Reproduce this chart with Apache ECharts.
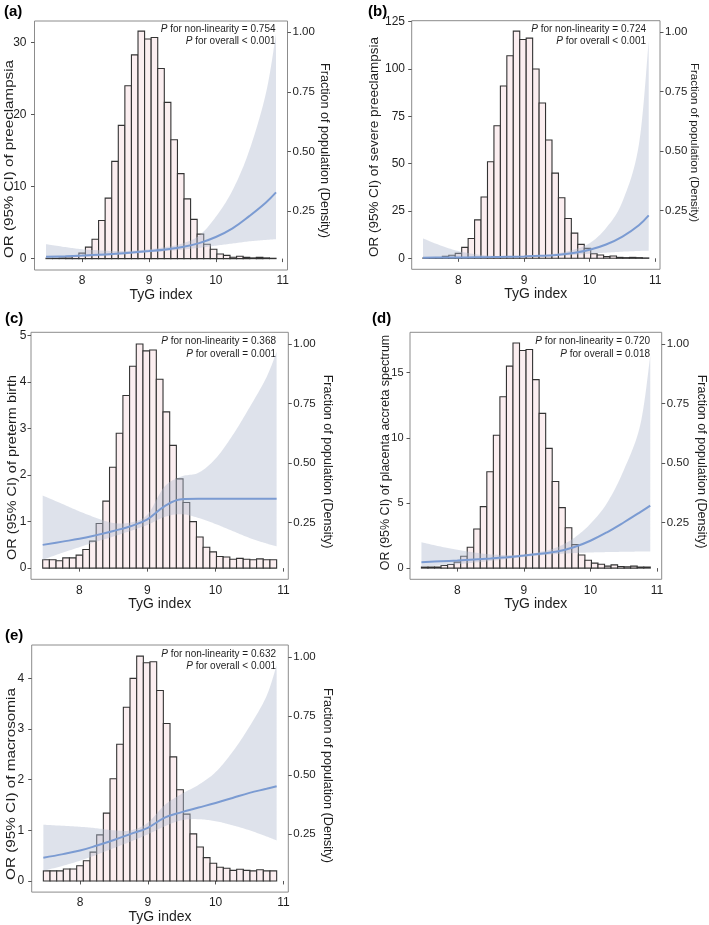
<!DOCTYPE html>
<html><head><meta charset="utf-8">
<script src="https://cdn.jsdelivr.net/npm/echarts@6/dist/echarts.min.js"></script>
<style>html,body{margin:0;padding:0;background:#fff}#c{width:709px;height:925px}</style>
</head><body><div id="c"></div>
<script>
// ---------------- DATA ----------------
const panelLetters = ['(a)', '(b)', '(c)', '(d)', '(e)'];
const outcomeNames = ['preeclampsia', 'severe preeclampsia', 'preterm birth', 'placenta accreta spectrum', 'macrosomia'];
const pNonLinearity = ['0.754', '0.724', '0.368', '0.720', '0.632'];
const pOverall = ['< 0.001', '< 0.001', '= 0.001', '= 0.018', '< 0.001'];

const xTicks = [8, 9, 10, 11];
const densityTicks = [0.25, 0.50, 0.75, 1.00];
const orTicksA = [0, 10, 20, 30];
const orTicksB = [0, 25, 50, 75, 100, 125];
const orTicksC = [0, 1, 2, 3, 4, 5];
const orTicksD = [0, 5, 10, 15];
const orTicksE = [0, 1, 2, 3, 4];

// histogram: 35 bins of TyG index
const histBinStart = 7.46;
const histBinWidth = 0.0983;
const histA = [0.05, 0.05, 0.1, 0.23, 0.4, 0.77, 1.6, 2.7, 5.3, 8.4, 13.5, 18.5, 24.0, 28.3, 31.6, 30.5, 30.7, 26.4, 21.7, 16.5, 11.8, 8.3, 5.45, 3.4, 2.0, 1.3, 0.64, 0.45, 0.2, 0.32, 0.18, 0.1, 0.18, 0.1, 0.05];
const histB = [0.2, 0.2, 0.4, 1.05, 1.6, 2.6, 5.8, 10.5, 20.3, 32.4, 51, 70, 91, 107, 120, 115.6, 116.3, 100, 82, 62.5, 45, 32, 21, 13.3, 7.35, 5.25, 2.45, 1.75, 0.9, 1.2, 0.5, 0.35, 0.5, 0.35, 0.2];
const histC = [0.18, 0.18, 0.16, 0.22, 0.22, 0.28, 0.40, 0.58, 0.96, 1.44, 2.17, 2.90, 3.71, 4.34, 4.82, 4.67, 4.69, 4.06, 3.36, 2.64, 1.92, 1.41, 1.00, 0.67, 0.45, 0.35, 0.25, 0.24, 0.19, 0.21, 0.19, 0.18, 0.20, 0.18, 0.18];
const histD = [0.08, 0.08, 0.08, 0.2, 0.28, 0.46, 0.91, 1.6, 3.0, 4.72, 7.4, 10.2, 13.15, 15.5, 17.28, 16.7, 16.78, 14.47, 11.88, 9.19, 6.65, 4.64, 3.1, 1.8, 1.0, 0.6, 0.38, 0.3, 0.15, 0.25, 0.12, 0.1, 0.15, 0.08, 0.08];
const histE = [0.2, 0.2, 0.2, 0.235, 0.235, 0.3, 0.4, 0.57, 0.91, 1.34, 2.02, 2.7, 3.43, 4.0, 4.44, 4.31, 4.33, 3.76, 3.11, 2.45, 1.8, 1.32, 0.93, 0.67, 0.46, 0.35, 0.27, 0.25, 0.21, 0.23, 0.21, 0.2, 0.22, 0.2, 0.2];

// restricted cubic spline: OR and 95% CI
const splineX = [7.46, 7.75, 8.0, 8.25, 8.5, 8.75, 9.0, 9.25, 9.5, 9.75, 10.0, 10.25, 10.5, 10.75, 10.9];
const fitA   = [0.25, 0.33, 0.42, 0.53, 0.68, 0.85, 1.05, 1.28, 1.6, 2.15, 3.0, 4.2, 5.9, 7.8, 9.2];
const lowerA = [0.05, 0.12, 0.22, 0.35, 0.5, 0.68, 0.88, 1.05, 1.25, 1.5, 1.8, 2.1, 2.4, 2.6, 2.7];
const upperA = [2.0, 1.6, 1.3, 1.15, 1.05, 1.1, 1.3, 1.6, 2.1, 3.2, 5.8, 9.5, 15.0, 23.0, 31.2];
const fitB   = [0.35, 0.4, 0.45, 0.55, 0.65, 0.8, 1.0, 1.3, 1.8, 2.8, 4.5, 7.3, 11.5, 17.5, 22.7];
const lowerB = [0.05, 0.1, 0.18, 0.3, 0.45, 0.62, 0.82, 1.05, 1.35, 1.8, 2.4, 3.0, 3.5, 3.9, 4.0];
const upperB = [10.5, 6.5, 3.8, 2.2, 1.4, 1.1, 1.25, 1.7, 2.6, 4.5, 8.0, 16, 30, 60, 115];
const fitC   = [0.5, 0.57, 0.63, 0.71, 0.8, 0.9, 1.05, 1.33, 1.48, 1.49, 1.49, 1.49, 1.49, 1.49, 1.49];
const lowerC = [0.18, 0.33, 0.45, 0.57, 0.68, 0.8, 0.93, 1.1, 1.16, 1.08, 0.95, 0.8, 0.65, 0.53, 0.47];
const upperC = [1.56, 1.38, 1.22, 1.08, 0.97, 0.98, 1.15, 1.75, 1.97, 2.05, 2.35, 2.85, 3.45, 4.1, 4.65];
const fitD   = [0.45, 0.52, 0.58, 0.66, 0.74, 0.84, 0.96, 1.1, 1.27, 1.6, 2.1, 2.75, 3.5, 4.3, 4.8];
const lowerD = [0.1, 0.2, 0.3, 0.42, 0.55, 0.7, 0.85, 0.98, 1.08, 1.15, 1.2, 1.23, 1.25, 1.27, 1.27];
const upperD = [1.98, 1.65, 1.4, 1.2, 1.05, 1.0, 1.05, 1.25, 1.6, 2.3, 3.4, 5.0, 7.5, 11.0, 16.3];
const fitE   = [0.46, 0.53, 0.6, 0.7, 0.81, 0.93, 1.05, 1.25, 1.36, 1.45, 1.54, 1.64, 1.74, 1.82, 1.87];
const lowerE = [0.2, 0.3, 0.4, 0.52, 0.65, 0.78, 0.92, 1.08, 1.2, 1.22, 1.18, 1.1, 1.0, 0.88, 0.8];
const upperE = [1.11, 1.09, 1.07, 1.04, 1.0, 1.0, 1.15, 1.5, 1.72, 1.9, 2.15, 2.55, 3.05, 3.65, 4.26];

// ---------------- LAYOUT / STYLE ----------------
const FONT = 'Liberation Sans, Arial, sans-serif';
const xRange = [7.288, 11.072];
const panels = [
  {hist: histA, fit: fitA, lower: lowerA, upper: upperA, orTicks: orTicksA, orRange: [-1.58, 33.0], dRange: [0.003, 1.047],
   grid: {left: 34.5, top: 21, width: 253, height: 249}, letter: [4, 13], yLabelMargin: 8, yLabelSize: 12,
   leftName: {x: 9.5, y: 159, size: 13, stretch: 1.166}, rightName: {x: 324, y: 150.5, size: 12.6}, pRight: 12, pTop: 8.3},
  {hist: histB, fit: fitB, lower: lowerB, upper: upperB, orTicks: orTicksB, orRange: [-5.8, 125.5], dRange: [0.003, 1.047],
   grid: {left: 411.7, top: 20.7, width: 248.3, height: 248.6}, letter: [368, 13], yLabelMargin: 6.7, yLabelSize: 12,
   leftName: {x: 374.2, y: 147, size: 13, stretch: 1.036}, rightName: {x: 694, y: 142.5, size: 11.45}, pRight: 14, pTop: 8.6},
  {hist: histC, fit: fitC, lower: lowerC, upper: upperC, orTicks: orTicksC, orRange: [-0.24, 5.07], dRange: [0.012, 1.050],
   grid: {left: 31, top: 332.3, width: 257.3, height: 247}, letter: [5, 320], yLabelMargin: 4.5, yLabelSize: 12,
   leftName: {x: 12.3, y: 467.5, size: 13, stretch: 1.114}, rightName: {x: 327.5, y: 461.5, size: 12.5}, pRight: 12.3, pTop: 9.4},
  {hist: histD, fit: fitD, lower: lowerD, upper: upperD, orTicks: orTicksD, orRange: [-0.86, 18.1], dRange: [0.012, 1.050],
   grid: {left: 410, top: 332.3, width: 251.7, height: 247}, letter: [372, 320], yLabelMargin: 6.5, yLabelSize: 11,
   leftName: {x: 386, y: 452.5, size: 12.5, stretch: 1.0}, rightName: {x: 701, y: 461.5, size: 12.5}, pRight: 11.7, pTop: 9.4},
  {hist: histE, fit: fitE, lower: lowerE, upper: upperE, orTicks: orTicksE, orRange: [-0.22, 4.66], dRange: [0.004, 1.052],
   grid: {left: 31.7, top: 645, width: 256.6, height: 248.3}, letter: [5, 637.5], yLabelMargin: 7.5, yLabelSize: 12,
   leftName: {x: 11.5, y: 784, size: 13, stretch: 1.176}, rightName: {x: 327.5, y: 775.5, size: 12.6}, pRight: 12.3, pTop: 9}
];

const BAR_FILL = '#FBEEF0';
const BAR_STROKE = '#333333';
const BAND_FILL = 'rgba(176,187,208,0.42)';
const LINE_COLOR = '#7B9BD2';
const BOX_COLOR = '#8c8c8c';
const TICK_COLOR = '#555555';
const TEXT_COLOR = '#1e1e1e';

// Catmull-Rom smoothing of a pixel polyline (rendering only)
function smoothPixels(pts, steps) {
  const out = [];
  const n = pts.length;
  for (let k = 0; k < n - 1; k++) {
    const p0 = pts[Math.max(k - 1, 0)], p1 = pts[k], p2 = pts[k + 1], p3 = pts[Math.min(k + 2, n - 1)];
    for (let s = 0; s < steps; s++) {
      const t = s / steps, t2 = t * t, t3 = t2 * t;
      const f = (a, b, c, d) => 0.5 * ((2 * b) + (-a + c) * t + (2 * a - 5 * b + 4 * c - d) * t2 + (-a + 3 * b - 3 * c + d) * t3);
      out.push([f(p0[0], p1[0], p2[0], p3[0]), f(p0[1], p1[1], p2[1], p3[1])]);
    }
  }
  out.push(pts[n - 1]);
  return out;
}

const chart = echarts.init(document.getElementById('c'), null, {renderer: 'canvas'});
const option = {animation: false, backgroundColor: '#ffffff', grid: [], xAxis: [], yAxis: [], series: [], graphic: []};

panels.forEach((p, i) => {
  option.grid.push(Object.assign({show: true, borderColor: BOX_COLOR, borderWidth: 1, backgroundColor: 'transparent', containLabel: false}, p.grid));
  option.xAxis.push({
    type: 'value', gridIndex: i, min: xRange[0], max: xRange[1],
    axisLine: {show: false}, splitLine: {show: false},
    axisTick: {show: true, length: 3.5, customValues: xTicks, lineStyle: {color: TICK_COLOR}},
    axisLabel: {customValues: xTicks, fontSize: 12, color: TEXT_COLOR, fontFamily: FONT, margin: 5},
    name: 'TyG index', nameLocation: 'middle', nameGap: 16,
    nameTextStyle: {fontSize: 14, color: TEXT_COLOR, fontFamily: FONT}
  });
  option.yAxis.push({
    type: 'value', gridIndex: i, position: 'left', min: p.orRange[0], max: p.orRange[1],
    axisLine: {show: false}, splitLine: {show: false},
    axisTick: {show: true, length: 3.5, customValues: p.orTicks, lineStyle: {color: TICK_COLOR}},
    axisLabel: {customValues: p.orTicks, fontSize: p.yLabelSize, color: TEXT_COLOR, fontFamily: FONT, margin: p.yLabelMargin}
  });
  option.yAxis.push({
    type: 'value', gridIndex: i, position: 'right', min: p.dRange[0], max: p.dRange[1],
    axisLine: {show: false}, splitLine: {show: false},
    axisTick: {show: true, length: 3.5, customValues: densityTicks, lineStyle: {color: TICK_COLOR}},
    axisLabel: {customValues: densityTicks, fontSize: 11.5, color: TEXT_COLOR, fontFamily: FONT, margin: 5,
      formatter: v => Number(v).toFixed(2)}
  });
  const yLeft = i * 2;
  // histogram bars
  option.series.push({
    type: 'custom', xAxisIndex: i, yAxisIndex: yLeft,
    encode: {x: [0, 1], y: 2},
    data: p.hist.map((h, k) => [histBinStart + k * histBinWidth, histBinStart + (k + 1) * histBinWidth, h]),
    renderItem: (params, api) => {
      const a = api.coord([api.value(0), api.value(2)]);
      const b = api.coord([api.value(1), 0]);
      return {type: 'rect', shape: {x: a[0], y: a[1], width: b[0] - a[0], height: b[1] - a[1]},
        style: {fill: BAR_FILL, stroke: BAR_STROKE, lineWidth: 1.1}};
    }
  });
  // CI band drawn as one polygon through the library's coordinates
  const bandData = splineX.map((x, k) => [x, p.lower[k], p.upper[k]]);
  option.series.push({
    type: 'custom', xAxisIndex: i, yAxisIndex: yLeft,
    encode: {x: 0, y: [1, 2]},
    data: bandData,
    renderItem: (params, api) => {
      if (params.dataIndex !== 0) return null;
      const up = bandData.map(d => api.coord([d[0], d[2]]));
      const lo = bandData.map(d => api.coord([d[0], d[1]]));
      const pts = smoothPixels(up, 12).concat(smoothPixels(lo, 12).reverse());
      return {type: 'polygon', shape: {points: pts}, style: {fill: BAND_FILL, stroke: null}};
    }
  });
  // fitted OR line
  option.series.push({
    type: 'line', xAxisIndex: i, yAxisIndex: yLeft, smooth: 0.4, symbol: 'none',
    lineStyle: {color: LINE_COLOR, width: 2}, data: splineX.map((x, k) => [x, p.fit[k]])
  });
  // panel letter
  option.graphic.push({type: 'text', left: p.letter[0], top: p.letter[1] - 9,
    style: {text: panelLetters[i], font: 'bold 15px ' + FONT, fill: '#000'}});
  // axis titles
  option.graphic.push({type: 'text', x: p.leftName.x, y: p.leftName.y, rotation: Math.PI / 2, scaleX: p.leftName.stretch,
    style: {text: 'OR (95% CI) of ' + outcomeNames[i], align: 'center', verticalAlign: 'middle',
      font: p.leftName.size + 'px ' + FONT, fill: TEXT_COLOR}});
  option.graphic.push({type: 'text', x: p.rightName.x, y: p.rightName.y, rotation: -Math.PI / 2,
    style: {text: 'Fraction of population (Density)', align: 'center', verticalAlign: 'middle',
      font: p.rightName.size + 'px ' + FONT, fill: TEXT_COLOR}});
  // P-value annotations
  const rx = p.grid.left + p.grid.width - p.pRight;
  option.graphic.push({type: 'text', x: rx, y: p.grid.top + p.pTop,
    style: {text: '{i|P} for non-linearity = ' + pNonLinearity[i], align: 'right', verticalAlign: 'middle',
      font: '10px ' + FONT, fill: TEXT_COLOR, rich: {i: {fontStyle: 'italic', fontSize: 10, fontFamily: FONT}}}});
  option.graphic.push({type: 'text', x: rx, y: p.grid.top + p.pTop + 12.3,
    style: {text: '{i|P} for overall ' + pOverall[i], align: 'right', verticalAlign: 'middle',
      font: '10px ' + FONT, fill: TEXT_COLOR, rich: {i: {fontStyle: 'italic', fontSize: 10, fontFamily: FONT}}}});
});

chart.setOption(option);
</script>
</body></html>
